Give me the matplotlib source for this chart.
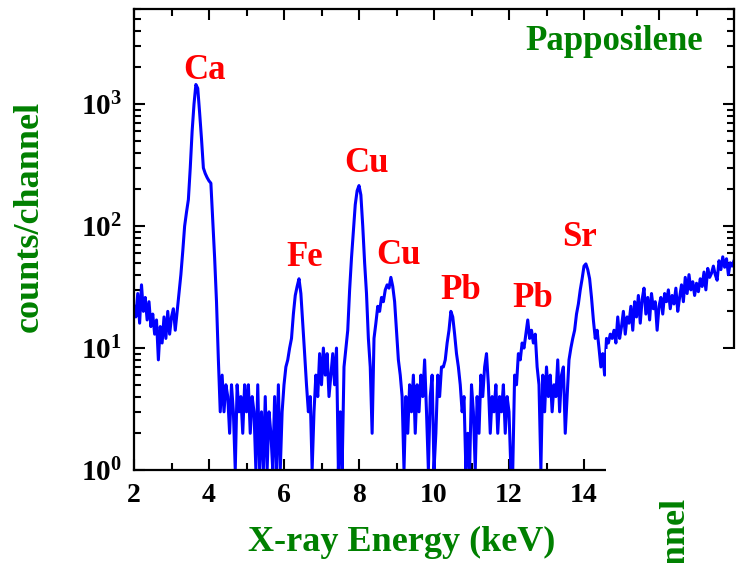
import numpy as np
import matplotlib
matplotlib.use("Agg")
import matplotlib.pyplot as plt
from matplotlib.patches import Rectangle
from matplotlib.ticker import MultipleLocator, LogLocator, FixedLocator, FixedFormatter, NullFormatter

plt.rcParams["font.family"] = ["Liberation Serif", "DejaVu Serif"]
plt.rcParams["font.weight"] = "bold"
plt.rcParams["mathtext.fontset"] = "custom"
plt.rcParams["mathtext.rm"] = "Liberation Serif"
plt.rcParams["mathtext.bf"] = "Liberation Serif:bold"

# channel energies (keV), 0.05 keV per point, 2.00 .. 18.00
energy = np.round(np.arange(2.0, 18.0001, 0.05), 2)

# counts per channel, one row per keV
counts = (
    [22, 18, 28, 16, 33, 20, 26, 17, 24, 15, 19, 13, 17, 8, 15, 11, 18, 12, 20, 13]        # 2
    + [18, 21, 14, 20, 28, 40, 62, 100, 130, 165, 300, 600, 1000, 1450, 1350, 850, 520, 300, 270, 250]  # 3
    + [235, 225, 112, 55, 24, 8, 3, 6, 3, 5, 4, 2, 5, 3, 1, 5, 3, 4, 2, 5]                 # 4
    + [3, 5, 2, 4, 3, 1, 5, 1, 3, 1, 4, 1, 3, 2, 1, 4, 1, 5, 1, 3]                          # 5
    + [5, 7, 8, 10, 12, 19, 27, 32, 37, 28, 16, 9, 5, 3, 4, 1, 3, 6, 4, 9]                  # 6
    + [5, 10, 6, 9, 4, 6, 9, 5, 10, 1, 3, 1, 7, 10, 14, 30, 55, 92, 150, 195]               # 7
    + [215, 180, 100, 50, 28, 12, 7, 2, 12, 16, 22, 20, 26, 24, 30, 33, 31, 38, 32, 24]     # 8
    + [14, 8, 6, 4, 1, 4, 2, 5, 3, 6, 2, 5, 3, 6, 4, 8, 3, 1, 4, 6]                         # 9
    + [1, 2, 6, 4, 7, 7, 8, 11, 14, 20, 18, 13, 9, 7, 5, 3, 4, 1, 2, 1]                     # 10
    + [5, 3, 1, 4, 2, 6, 4, 7, 9, 5, 2, 4, 3, 5, 2, 4, 3, 5, 2, 4]                          # 11
    + [3, 1, 1, 6, 5, 9, 8, 11, 10, 13, 17, 12, 14, 11, 13, 7, 5, 1, 6, 3]                  # 12
    + [7, 4, 6, 3, 5, 4, 8, 3, 6, 7, 2, 4, 8, 10, 12, 14, 19, 23, 30, 37]                   # 13
    + [47, 49, 44, 37, 26, 17, 12, 14, 10, 7, 9, 6, 12, 11, 13, 12, 14, 11, 18, 12]         # 14
    + [15, 20, 13, 18, 16, 22, 14, 24, 18, 27, 16, 25, 31, 19, 26, 17, 28, 21, 24, 14]      # 15
    + [22, 26, 19, 28, 24, 30, 21, 27, 23, 31, 20, 26, 33, 24, 38, 28, 40, 30, 35, 27]      # 16
    + [34, 29, 37, 32, 42, 30, 45, 38, 41, 47, 40, 36, 52, 44, 56, 46, 54, 40, 50, 47]      # 17
    + [52]                                                                                  # 18
)

peak_names = ["Ca", "Cu", "Fe", "Cu", "Pb", "Pb", "Sr"]
peak_x = [3.89, 8.19, 6.56, 9.04, 10.72, 12.64, 13.89]
peak_y = [1600, 277, 47, 48.8, 25.2, 21.7, 68.6]

xtick_vals = [2, 4, 6, 8, 10, 12, 14, 16, 18]
xtick_labels = ["2", "4", "6", "8", "10", "12", "14", "", ""]
ytick_vals = [1, 10, 100, 1000]
ytick_labels = [r"$\mathbf{10^{0}}$", r"$\mathbf{10^{1}}$", r"$\mathbf{10^{2}}$", r"$\mathbf{10^{3}}$"]

GREEN = "#008000"

fig = plt.figure(figsize=(7.4, 5.63), dpi=100)
ax = fig.add_axes([134 / 740, 1 - 470 / 563, 600 / 740, (470 - 9.3) / 563])

ax.plot(energy, np.array(counts, dtype=float), color="blue", linewidth=2.2)

ax.set_yscale("log")
ax.set_xlim(2, 18)
ax.set_ylim(1, 6000)

ax.xaxis.set_major_locator(FixedLocator(xtick_vals))
ax.xaxis.set_major_formatter(FixedFormatter(xtick_labels))
ax.xaxis.set_minor_locator(MultipleLocator(1))
ax.yaxis.set_major_locator(FixedLocator(ytick_vals))
ax.yaxis.set_major_formatter(FixedFormatter(ytick_labels))
ax.yaxis.set_minor_locator(LogLocator(base=10, subs=np.arange(2, 10)))
ax.yaxis.set_minor_formatter(NullFormatter())

ax.tick_params(which="both", direction="in", top=True, right=True, width=1.5)
ax.tick_params(which="major", length=8, pad=9)
ax.tick_params(axis="x", which="major", labelsize=20)
ax.tick_params(axis="y", which="major", labelsize=21)
ax.tick_params(which="minor", length=5)
for lab in ax.get_xticklabels():
    lab.set_fontweight("bold")
for spine in ax.spines.values():
    spine.set_linewidth(1.6)

for name, x, y in zip(peak_names, peak_x, peak_y):
    ax.text(x, y, name, color="red", fontsize=25, fontweight="bold",
            ha="center", va="baseline")

fig.text(614 / 740, 1 - 50 / 563, "Papposilene", color=GREEN, fontsize=25,
         fontweight="bold", ha="center", va="baseline")
fig.text(402 / 740, 1 - 551 / 563, "X-ray Energy (keV)", color=GREEN, fontsize=26,
         fontweight="bold", ha="center", va="baseline")
fig.text(29 / 740, 1 - 216 / 563, "counts/channel", color=GREEN, fontsize=26,
         fontweight="bold", rotation=90, ha="center", va="center")

# white block of the neighbouring panel covering the lower right corner
fig.patches.append(Rectangle((606 / 740, 0), 1, (563 - 349) / 563,
                             transform=fig.transFigure, facecolor="white",
                             edgecolor="none", zorder=5))
fig.text(675 / 740, 1 - 497 / 563, "counts/channel", color=GREEN, fontsize=26,
         fontweight="bold", rotation=90, ha="center", va="top", zorder=6)

fig.savefig("out.png", dpi=100)
